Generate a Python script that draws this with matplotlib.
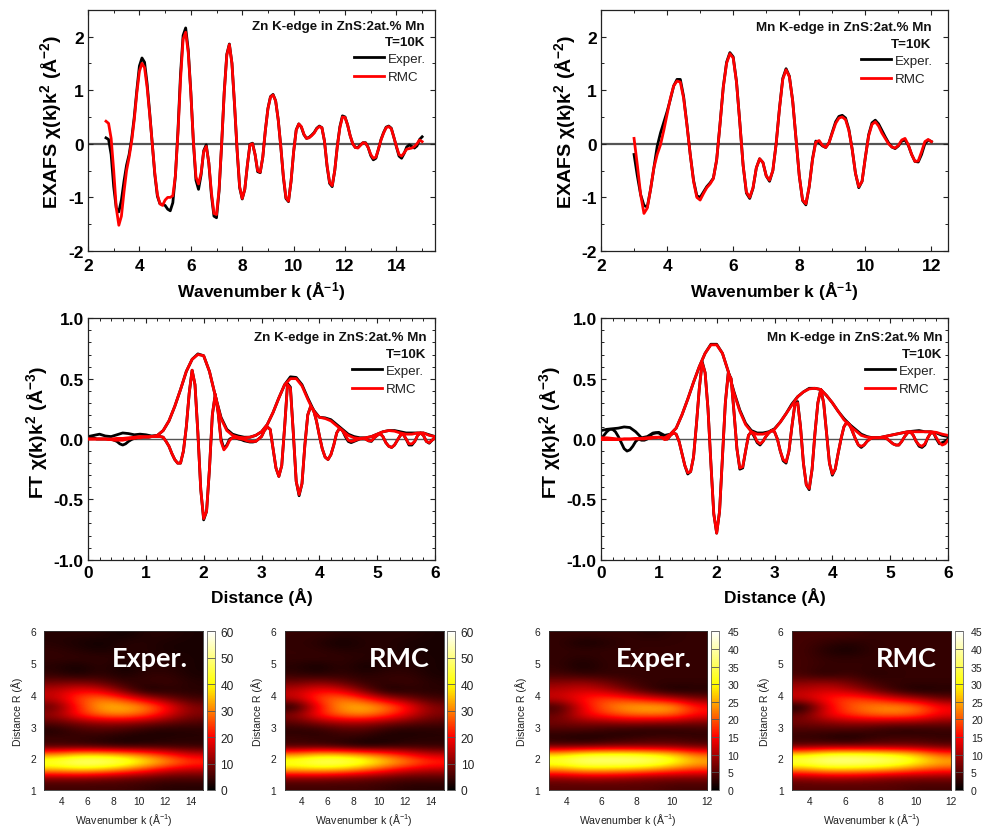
import numpy as np
import matplotlib
matplotlib.use('Agg')
import matplotlib.pyplot as plt
from matplotlib.colors import LinearSegmentedColormap
from matplotlib.ticker import MultipleLocator

plt.rcParams['font.family'] = ['Liberation Sans', 'DejaVu Sans']
plt.rcParams['axes.unicode_minus'] = False
plt.rcParams['mathtext.fontset'] = 'custom'
plt.rcParams['mathtext.rm'] = 'Liberation Sans:bold'
plt.rcParams['mathtext.bf'] = 'Liberation Sans:bold'
plt.rcParams['mathtext.it'] = 'Liberation Sans:bold'
plt.rcParams['mathtext.default'] = 'bf'

# ---------- EXAFS, k step 0.1 ----------
zn_k_start = 2.7
zn_exafs_rmc = [.42,.38,.10,-.50,-1.20,-1.52,-1.35,-.90,-.50,-.25,
 .05,.45,.95,1.35,1.50,1.42,1.05,.55,.00,-.55,
 -.95,-1.12,-1.15,-1.05,-1.00,-1.00,-.97,-.60,.20,1.20,
 1.95,2.08,1.70,.95,.05,-.62,-.75,-.55,-.15,-.05,
 -.35,-.90,-1.30,-1.32,-.85,.00,.95,1.65,1.85,1.50,
 .75,-.10,-.80,-1.02,-.85,-.40,-.02,.00,-.20,-.50,
 -.53,-.25,.25,.65,.87,.91,.80,.45,-.05,-.60,
 -1.00,-1.07,-.70,-.15,.25,.37,.32,.18,.10,.11,
 .15,.20,.28,.32,.30,.05,-.40,-.72,-.78,-.50,
 -.05,.30,.50,.49,.35,.15,.00,-.07,-.08,-.03,
 .02,.01,-.07,-.20,-.27,-.25,-.10,.07,.20,.30,
 .32,.28,.12,-.05,-.20,-.23,-.17,-.10,-.09,-.08,
 -.05,.00,.07,.04]
zn_exafs_exp = [.11,.08,-.20,-.80,-1.20,-1.27,-1.05,-.70,-.40,-.20,
 .10,.50,1.00,1.45,1.60,1.52,1.12,.58,.00,-.58,
 -.98,-1.12,-1.13,-1.15,-1.22,-1.25,-1.10,-.60,.25,1.30,
 2.02,2.16,1.75,.97,.03,-.68,-.85,-.58,-.13,-.02,
 -.36,-.95,-1.35,-1.38,-.88,.00,.97,1.67,1.86,1.50,
 .73,-.12,-.82,-1.03,-.85,-.40,-.01,.01,-.20,-.52,
 -.54,-.25,.25,.66,.88,.92,.80,.45,-.05,-.62,
 -1.02,-1.08,-.70,-.15,.26,.37,.31,.17,.10,.12,
 .16,.21,.29,.33,.30,.05,-.42,-.74,-.80,-.50,
 -.04,.32,.52,.50,.35,.15,.00,-.07,-.07,-.02,
 .02,.02,-.07,-.22,-.30,-.27,-.10,.08,.21,.31,
 .33,.29,.12,-.06,-.23,-.27,-.18,-.06,-.02,-.05,
 -.08,-.04,.08,.13,.10][:124]
mn_k_start = 3.0
mn_exafs_rmc = [.10,-.40,-.95,-1.30,-1.20,-.85,-.45,-.20,-.02,.25,
 .55,.85,1.08,1.17,1.15,.85,.35,-.20,-.70,-1.00,
 -1.05,-.93,-.82,-.75,-.65,-.30,.35,1.05,1.50,1.68,
 1.60,1.15,.40,-.40,-.90,-1.00,-.82,-.45,-.28,-.35,
 -.60,-.68,-.50,.00,.65,1.20,1.38,1.25,.80,.10,
 -.60,-1.05,-1.12,-.80,-.30,.03,.06,-.03,-.07,.02,
 .20,.38,.48,.50,.45,.25,-.10,-.55,-.80,-.70,
 -.25,.15,.36,.41,.33,.20,.10,.00,-.06,-.08,
 -.03,.07,.10,-.02,-.20,-.33,-.32,-.15,.04,.08,.04]
mn_exafs_exp = [-.20,-.60,-.95,-1.15,-1.18,-.85,-.45,-.05,.20,.40,
 .60,.83,1.08,1.20,1.20,.88,.36,-.20,-.68,-.97,
 -1.00,-.90,-.80,-.73,-.64,-.30,.36,1.06,1.52,1.70,
 1.62,1.16,.40,-.40,-.92,-1.02,-.83,-.45,-.28,-.35,
 -.60,-.70,-.50,.00,.66,1.22,1.40,1.26,.80,.10,
 -.60,-1.06,-1.14,-.80,-.28,.05,.02,-.04,-.07,.02,
 .22,.41,.51,.53,.48,.27,-.10,-.55,-.82,-.70,
 -.25,.17,.39,.44,.37,.25,.13,.02,-.06,-.09,
 -.04,.05,.07,-.03,-.20,-.33,-.34,-.20,.00,.07,.04]

# ---------- FT real/imag part, R step 0.05 ----------
zn_im_rmc = [.00,.00,.00,.00,.00,.00,.00,-.005,-.005,-.01,-.01,-.01,-.01,-.005,.00,.005,.005,.01,.01,.015,
 .015,.015,.02,.02,.02,.02,.015,-.02,-.06,-.12,-.17,-.20,-.20,-.10,.10,.38,.57,.45,.05,-.42,
 -.66,-.60,-.25,.20,.37,.22,-.02,-.09,-.06,-.01,.01,.01,.005,.00,-.005,-.015,-.02,-.02,-.02,.00,
 .02,.07,.10,.08,-.08,-.24,-.31,-.22,.10,.45,.42,.05,-.35,-.46,-.37,-.05,.20,.27,.24,.15,
 .03,-.08,-.15,-.17,-.13,-.05,.05,.09,.07,.03,-.01,-.02,-.015,-.005,.00,.005,.00,-.015,-.015,.01,
 .03,.045,.02,-.03,-.06,-.07,-.05,-.01,.03,.04,.00,-.04,-.04,-.02,.03,.05,.03,-.02,-.03,-.01,.01]
zn_im_exp = [.01,.01,.01,.00,.00,.00,.00,.00,.00,-.01,-.02,-.04,-.05,-.04,-.02,-.005,.005,.01,.015,.015,
 .015,.015,.02,.02,.02,.02,.015,-.02,-.06,-.12,-.17,-.20,-.20,-.10,.10,.38,.57,.45,.05,-.42,
 -.67,-.60,-.25,.20,.37,.22,.00,-.08,-.05,.00,.01,.01,.00,-.005,-.015,-.02,-.025,-.025,-.02,.00,
 .02,.07,.10,.08,-.08,-.24,-.31,-.22,.10,.46,.43,.05,-.35,-.47,-.37,-.05,.20,.27,.24,.15,
 .03,-.08,-.15,-.17,-.13,-.05,.05,.09,.07,.02,-.02,-.03,-.02,-.01,.00,.00,.00,-.015,-.02,.01,
 .03,.045,.02,-.03,-.06,-.07,-.05,-.01,.03,.04,.00,-.05,-.05,-.02,.03,.05,.03,-.02,-.035,-.01,.01]
zn_mag_rmc = [.00,.00,.00,.00,.00,.005,.005,.01,.015,.02,.02,.02,.03,.07,.15,.27,.41,.56,.66,.70,
 .69,.56,.36,.17,.07,.03,.015,.01,.015,.03,.06,.12,.22,.34,.45,.50,.50,.44,.33,.23,
 .18,.17,.15,.11,.07,.03,.01,.005,.01,.02,.04,.06,.07,.065,.05,.04,.04,.05,.05,.03,.02]
zn_mag_exp = [.02,.03,.04,.025,.02,.035,.05,.045,.035,.04,.035,.025,.03,.07,.15,.27,.41,.56,.66,.705,
 .69,.56,.36,.18,.08,.04,.025,.015,.015,.03,.06,.12,.22,.34,.45,.515,.51,.45,.34,.24,
 .18,.175,.16,.12,.08,.04,.02,.01,.01,.02,.04,.06,.07,.07,.06,.05,.05,.05,.05,.035,.02]
mn_im_rmc = [-.005,-.005,-.005,-.005,-.005,-.005,-.005,-.005,.00,.00,.00,.00,.00,.00,.00,.00,.005,.005,.01,.01,
 .015,.01,-.005,.00,.03,.05,.04,-.02,-.12,-.22,-.28,-.27,-.15,.12,.42,.63,.55,.25,-.20,-.62,
 -.78,-.60,-.15,.30,.54,.50,.22,-.08,-.24,-.23,-.10,.03,.06,.03,-.02,-.04,-.02,.02,.05,.07,
 .06,.00,-.10,-.17,-.19,-.10,.10,.28,.30,.10,-.20,-.38,-.41,-.25,.05,.30,.41,.30,.05,-.20,
 -.29,-.25,-.12,.00,.10,.14,.12,.06,.00,-.05,-.06,-.05,-.02,.00,.01,.01,.01,.01,.01,.00,
 -.02,-.04,-.05,-.05,-.02,.02,.05,.06,.03,-.02,-.05,-.06,-.04,.01,.05,.05,.01,-.03,-.05,-.04,-.01]
mn_im_exp = [.00,.03,.06,.08,.08,.06,.02,-.03,-.08,-.10,-.09,-.06,-.02,.00,-.01,-.01,.00,.03,.045,.05,
 .05,.03,.00,.00,.03,.05,.04,-.02,-.12,-.22,-.29,-.27,-.15,.12,.42,.64,.55,.25,-.20,-.62,
 -.78,-.60,-.15,.30,.55,.50,.22,-.08,-.25,-.24,-.10,.03,.06,.02,-.03,-.05,-.02,.02,.05,.07,
 .06,.00,-.10,-.18,-.20,-.10,.10,.28,.31,.10,-.20,-.38,-.42,-.25,.05,.30,.41,.30,.05,-.20,
 -.30,-.25,-.12,.00,.10,.14,.12,.06,.00,-.05,-.07,-.05,-.02,.00,.01,.01,.01,.01,.01,.00,
 -.02,-.04,-.05,-.05,-.02,.02,.05,.06,.03,-.02,-.06,-.07,-.05,.01,.05,.05,.00,-.04,-.03,-.02,.00]
mn_mag_rmc = [.01,.01,.005,.00,.00,.00,.005,.005,.01,.015,.015,.01,.04,.09,.20,.33,.47,.60,.71,.78,
 .78,.71,.56,.38,.23,.12,.06,.04,.04,.055,.08,.14,.21,.28,.35,.39,.415,.42,.41,.36,
 .30,.23,.16,.11,.07,.03,.015,.01,.01,.02,.03,.04,.05,.06,.06,.06,.06,.06,.055,.04,.03]
mn_mag_exp = [.07,.08,.085,.09,.10,.095,.06,.01,.02,.05,.055,.03,.04,.09,.20,.33,.47,.60,.71,.785,
 .785,.71,.56,.39,.24,.13,.07,.05,.05,.06,.085,.14,.21,.29,.35,.39,.42,.42,.41,.36,
 .30,.23,.17,.12,.08,.04,.02,.01,.01,.02,.03,.04,.05,.06,.065,.07,.06,.06,.05,.03,.02]

# ---------- heat maps: rows R low to high, columns k low to high ----------
hm_zn_exp = [[5,5,5,5,4,3,3],[10,10,9,8,7,6,6],[33,35,33,28,22,16,14],[46,52,52,48,40,32,25],
 [31,36,36,33,28,22,16],[5,5,4,3,4,4,4],[5,4,3,2,2,3,3],[2,5,6,5,3,2,3],[7,10,12,12,10,8,6],
 [12,22,29,31,26,17,10],[7,22,34,35,31,20,10],[15,25,30,24,15,9,5],[15,20,18,9,1,3,3],[9,10,8,4,4,5,3],
 [4,2,4,2,4,4,2],[3,1,4,1,3,3,2],[4,4,4,3,3,3,2],[4,3,2,3,3,2,2],[3,2,1,3,3,2,2],[3,3,3,1,3,3,2]]
hm_zn_rmc = [[5,5,5,5,4,3,3],[10,10,9,8,7,6,6],[33,34,32,27,21,16,14],[45,50,50,45,37,30,24],
 [31,36,35,31,26,20,15],[5,5,3,1,3,4,4],[5,4,4,3,2,3,3],[3,3,6,6,3,2,3],[7,11,13,13,10,8,6],
 [11,22,29,31,25,17,10],[1,20,33,35,30,20,10],[15,25,30,23,14,9,5],[15,21,18,9,1,3,3],[9,11,8,4,4,5,3],
 [4,3,4,3,4,4,2],[3,1,4,1,3,3,2],[4,4,4,3,3,3,2],[4,4,3,3,3,2,2],[4,3,1,3,3,2,2],[4,4,3,3,3,3,2]]
hm_mn_exp = [[5,5,5,5,5,4,4],[8,9,9,8,7,7,7],[22,25,25,24,22,19,17],[34,38,38,38,37,32,26],
 [28,32,33,33,31,28,21],[6,6,7,7,7,7,6],[2,1,2,3,4,4,3],[4,4,3,2,2,2,3],[7,8,8,9,8,8,7],
 [6,14,18,21,22,21,15],[3,14,21,25,26,25,16],[12,16,19,17,14,11,7],[11,13,11,7,3,1,2],[8,9,7,4,3,3,3],
 [4,3,3,3,3,3,3],[3,1,3,3,3,3,3],[3,2,3,3,3,3,3],[3,3,3,3,3,3,3],[3,1,2,3,3,3,3],[3,3,3,3,2,3,3]]
hm_mn_rmc = [[5,5,5,5,5,4,4],[8,9,9,8,7,7,7],[22,25,25,24,22,19,17],[35,39,39,38,36,31,26],
 [29,33,34,33,31,27,20],[6,7,7,7,7,7,6],[3,2,1,3,4,4,3],[4,4,4,3,2,2,3],[7,8,9,9,8,8,7],
 [6,14,18,21,22,20,14],[0,13,20,23,24,22,15],[12,16,19,17,13,10,6],[11,13,11,7,3,1,2],[8,9,7,4,3,3,3],
 [4,2,4,2,3,3,3],[4,3,3,3,3,3,3],[4,3,3,3,3,3,3],[4,2,1,3,3,3,3],[4,3,2,3,3,3,3],[4,4,4,3,3,3,3]]

W, H = 984, 828
fig = plt.figure(figsize=(W / 100, H / 100), dpi=100)

def axpx(x0, x1, y0, y1):
    return fig.add_axes([x0 / W, 1 - y1 / H, (x1 - x0) / W, (y1 - y0) / H])

def line_panel(box, xlim, ylim, xmaj, xmin, ymaj, ymin, curves, zero_lw, title,
               title_xy, leg_xy, xlabel, ylabel, ylab_x, ylab_y, xlab_y, xpad):
    ax = axpx(*box)
    ax.axhline(0, color='#555555', lw=zero_lw, zorder=1)
    for x, y, c in curves:
        ax.plot(x, y, color=c, lw=2.0, zorder=3 if c == 'red' else 2, solid_joinstyle='round')
    ax.set_xlim(*xlim); ax.set_ylim(*ylim)
    ax.xaxis.set_major_locator(MultipleLocator(xmaj)); ax.xaxis.set_minor_locator(MultipleLocator(xmin))
    ax.yaxis.set_major_locator(MultipleLocator(ymaj)); ax.yaxis.set_minor_locator(MultipleLocator(ymin))
    ax.tick_params(which='major', direction='in', length=3.6, width=0.8, top=True, right=True,
                   labelsize=12.5, pad=3, color='#222222')
    ax.tick_params(axis='x', which='major', pad=xpad)
    ax.tick_params(which='minor', direction='in', length=2, width=0.7, top=True, right=True, color='#222222')
    for lab in ax.get_xticklabels() + ax.get_yticklabels():
        lab.set_fontweight('bold')
    for s in ax.spines.values():
        s.set_linewidth(0.9); s.set_color('#222222')
    ax.set_xlabel(xlabel, fontsize=12.5, fontweight='bold', va='center')
    ax.set_ylabel(ylabel, fontsize=14, fontweight='bold', va='center')
    ax.xaxis.set_label_coords(0.5, (box[3] - xlab_y) / (box[3] - box[2]))
    ax.yaxis.set_label_coords((ylab_x - box[0]) / (box[1] - box[0]), (box[3] - ylab_y) / (box[3] - box[2]))
    fig.text(title_xy[0] / W, 1 - title_xy[1] / H, title, ha='right', va='center', fontsize=9.6, fontweight='bold', color='#111111')
    fig.text(title_xy[0] / W, 1 - (title_xy[1] + 16.7) / H, 'T=10K', ha='right', va='center', fontsize=9.6, fontweight='bold', color='#111111')
    if len(curves) == 4:
        handles = [ax.lines[1], ax.lines[3]]
    else:
        handles = [ax.lines[1], ax.lines[2]]
    ax.legend(handles, ['Exper.', 'RMC'], loc='upper left', bbox_to_anchor=(leg_xy[0] / W, 1 - leg_xy[1] / H),
              bbox_transform=fig.transFigure, frameon=False, fontsize=9.6, handlelength=2.25,
              handletextpad=0.3, labelspacing=0.46, borderpad=0, borderaxespad=0, labelcolor='#222222')
    return ax

def xs(start, step, y):
    return start + step * np.arange(len(y))

def ms(y):
    return xs(0.0, 0.05, y)

def mm(y):
    return xs(0.0, 0.1, y)

k_lab = r'Wavenumber k (Å$^{\mathbf{-1}}$)'
ex_lab = r'EXAFS $\mathbf{\chi}$(k)k$^{\mathbf{2}}$ (Å$^{\mathbf{-2}}$)'
ft_lab = r'FT $\mathbf{\chi}$(k)k$^{\mathbf{2}}$ (Å$^{\mathbf{-3}}$)'
zn_t = 'Zn K-edge in ZnS:2at.% Mn'
mn_t = 'Mn K-edge in ZnS:2at.% Mn'

line_panel((88, 435, 10.7, 252), (2, 15.5), (-2, 2.5), 2, 1, 1, 0.5,
           [(xs(zn_k_start, .1, zn_exafs_exp), zn_exafs_exp, 'black'),
            (xs(zn_k_start, .1, zn_exafs_rmc), zn_exafs_rmc, 'red')],
           1.6, zn_t, (425, 26.7), (354, 53.5), k_lab, ex_lab, 51, 121.7, 292, 5)
line_panel((601, 948, 10.7, 252), (2, 12.5), (-2, 2.5), 2, 1, 1, 0.5,
           [(xs(mn_k_start, .1, mn_exafs_exp), mn_exafs_exp, 'black'),
            (xs(mn_k_start, .1, mn_exafs_rmc), mn_exafs_rmc, 'red')],
           1.6, mn_t, (931.7, 28.3), (861, 55.5), k_lab, ex_lab, 565, 121.7, 292, 5)
line_panel((88, 435, 319.3, 560.7), (0, 6), (-1, 1), 1, 0.2, 0.5, 0.1,
           [(mm(zn_mag_exp), zn_mag_exp, 'black'), (ms(zn_im_exp), zn_im_exp, 'black'),
            (mm(zn_mag_rmc), zn_mag_rmc, 'red'), (ms(zn_im_rmc), zn_im_rmc, 'red')],
           1.0, zn_t, (426.7, 338), (352, 365.5), 'Distance (Å)', ft_lab, 37, 432.8, 596.7, 4)
line_panel((601, 948, 319.3, 560.7), (0, 6), (-1, 1), 1, 0.2, 0.5, 0.1,
           [(mm(mn_mag_exp), mn_mag_exp, 'black'), (ms(mn_im_exp), mn_im_exp, 'black'),
            (mm(mn_mag_rmc), mn_mag_rmc, 'red'), (ms(mn_im_rmc), mn_im_rmc, 'red')],
           1.0, mn_t, (942.7, 338), (865, 365.5), 'Distance (Å)', ft_lab, 550, 432.8, 596.7, 4)

cmap = LinearSegmentedColormap.from_list('gp_hot', [(0, 'black'), (1 / 3, 'red'), (2 / 3, 'yellow'), (1, 'white')])

def heat(x0, x1, cx0, cx1, data, xlim, xticks, vmax, cticks, label, label_x, cb_size, cb_pad):
    y0, y1 = 632.3, 791
    ax = axpx(x0, x1, y0, y1)
    im = ax.imshow(np.array(data, float), origin='lower', extent=[xlim[0], xlim[1], 1, 6], aspect='auto',
                   cmap=cmap, vmin=0, vmax=vmax, interpolation='bicubic')
    ax.set_xticks(xticks); ax.set_yticks([1, 2, 3, 4, 5, 6])
    ax.tick_params(length=0, labelsize=7.4, pad=4, colors='#222222')
    ax.tick_params(axis='y', pad=6)
    for s in ax.spines.values():
        s.set_linewidth(0.6); s.set_color('#333333')
    ax.set_xlabel(r'Wavenumber k (Å$^{-1}$)', fontsize=7.6, color='#222222', labelpad=4)
    ax.set_ylabel('Distance R (Å)', fontsize=7.6, color='#222222', labelpad=5.5)
    ax.text((label_x - x0) / (x1 - x0), 1 - (659 - y0) / (y1 - y0), label, transform=ax.transAxes,
            color='white', family='Lato', fontweight='bold', fontsize=19.5, ha='center', va='center')
    cax = axpx(cx0, cx1, y0, y1)
    cb = fig.colorbar(im, cax=cax, ticks=cticks)
    cb.ax.tick_params(direction='in', length=5.6, width=0.6, color='#555555', labelsize=cb_size, pad=cb_pad, labelcolor='#222222')
    cb.outline.set_linewidth(0.6); cb.outline.set_edgecolor('#666666')

plt.rcParams['mathtext.rm'] = 'Liberation Sans'
plt.rcParams['mathtext.default'] = 'regular'
plt.rcParams['mathtext.bf'] = 'Liberation Sans:bold'

zn_xl = (2.67, 15); mn_xl = (3, 12)
zn_xt = [4, 6, 8, 10, 12, 14]; mn_xt = [4, 6, 8, 10, 12]
zn_ct = [0, 10, 20, 30, 40, 50, 60]; mn_ct = [0, 5, 10, 15, 20, 25, 30, 35, 40, 45]
heat(44.3, 203.3, 207, 214.7, hm_zn_exp, zn_xl, zn_xt, 60, zn_ct, 'Exper.', 150, 8.6, 4)
heat(284.7, 443.7, 447.3, 455, hm_zn_rmc, zn_xl, zn_xt, 60, zn_ct, 'RMC', 399, 8.6, 4)
heat(548.7, 707.3, 711.3, 719, hm_mn_exp, mn_xl, mn_xt, 45, mn_ct, 'Exper.', 654, 7.6, 6)
heat(792, 951, 955, 962.7, hm_mn_rmc, mn_xl, mn_xt, 45, mn_ct, 'RMC', 906, 7.6, 6)

fig.savefig('out.png', dpi=100)
